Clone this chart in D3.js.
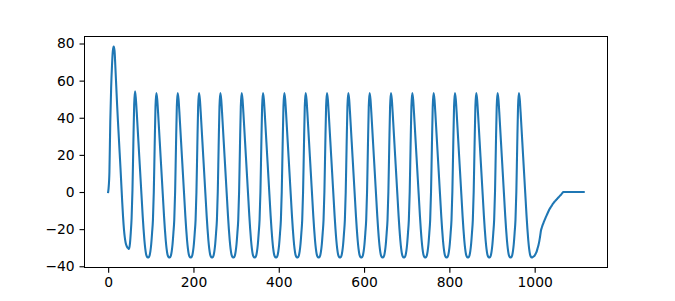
<!DOCTYPE html>
<html>
<head>
<meta charset="utf-8">
<script src="https://cdn.jsdelivr.net/npm/d3@7"></script>
<style>
  html, body { margin: 0; padding: 0; background: #fff; }
  svg { display: block; }
  .tick text { font-family: "DejaVu Sans", sans-serif; font-size: 13.89px; fill: #000; }
</style>
</head>
<body>
<svg id="chart" width="675" height="301"></svg>
<script>
// Sample times (x index) : 0 then odd steps up to 1115
const sampleTimes = [0].concat(d3.range(1, 1116, 2));

// Membrane potential, one value per sample time
const voltage = [
  0,
  // first spike (t = 1 .. 61)
  2, 11, 38, 56, 68, 76, 78.3, 76, 67, 57,
  47, 38, 29.5, 21, 12.5, 3.5, -5.5, -13.5, -20, -24.5,
  -27.3, -28.9, -29.8, -30.3, -30.7, -28, -22, -14, 1, 25,
  47,
  // t = 63 .. 111
  54.2, 50, 43, 35, 27, 19, 11, 3, -5, -13, -20, -26, -30.5, -33.5, -34.8, -35.2, -35.2, -34.3, -32, -28, -22, -15, 0, 24, 46,
  // t = 113 .. 161
  53.3, 50, 43, 35, 27, 19, 11, 3, -5, -13, -20, -26, -30.5, -33.5, -34.8, -35.2, -35.2, -34.3, -32, -28, -22, -15, 0, 24, 46,
  // t = 163 .. 211
  53.3, 50, 43, 35, 27, 19, 11, 3, -5, -13, -20, -26, -30.5, -33.5, -34.8, -35.2, -35.2, -34.3, -32, -28, -22, -15, 0, 24, 46,
  // t = 213 .. 261
  53.3, 50, 43, 35, 27, 19, 11, 3, -5, -13, -20, -26, -30.5, -33.5, -34.8, -35.2, -35.2, -34.3, -32, -28, -22, -15, 0, 24, 46,
  // t = 263 .. 311
  53.3, 50, 43, 35, 27, 19, 11, 3, -5, -13, -20, -26, -30.5, -33.5, -34.8, -35.2, -35.2, -34.3, -32, -28, -22, -15, 0, 24, 46,
  // t = 313 .. 361
  53.3, 50, 43, 35, 27, 19, 11, 3, -5, -13, -20, -26, -30.5, -33.5, -34.8, -35.2, -35.2, -34.3, -32, -28, -22, -15, 0, 24, 46,
  // t = 363 .. 411
  53.3, 50, 43, 35, 27, 19, 11, 3, -5, -13, -20, -26, -30.5, -33.5, -34.8, -35.2, -35.2, -34.3, -32, -28, -22, -15, 0, 24, 46,
  // t = 413 .. 461
  53.3, 50, 43, 35, 27, 19, 11, 3, -5, -13, -20, -26, -30.5, -33.5, -34.8, -35.2, -35.2, -34.3, -32, -28, -22, -15, 0, 24, 46,
  // t = 463 .. 511
  53.3, 50, 43, 35, 27, 19, 11, 3, -5, -13, -20, -26, -30.5, -33.5, -34.8, -35.2, -35.2, -34.3, -32, -28, -22, -15, 0, 24, 46,
  // t = 513 .. 561
  53.3, 50, 43, 35, 27, 19, 11, 3, -5, -13, -20, -26, -30.5, -33.5, -34.8, -35.2, -35.2, -34.3, -32, -28, -22, -15, 0, 24, 46,
  // t = 563 .. 611
  53.3, 50, 43, 35, 27, 19, 11, 3, -5, -13, -20, -26, -30.5, -33.5, -34.8, -35.2, -35.2, -34.3, -32, -28, -22, -15, 0, 24, 46,
  // t = 613 .. 661
  53.3, 50, 43, 35, 27, 19, 11, 3, -5, -13, -20, -26, -30.5, -33.5, -34.8, -35.2, -35.2, -34.3, -32, -28, -22, -15, 0, 24, 46,
  // t = 663 .. 711
  53.3, 50, 43, 35, 27, 19, 11, 3, -5, -13, -20, -26, -30.5, -33.5, -34.8, -35.2, -35.2, -34.3, -32, -28, -22, -15, 0, 24, 46,
  // t = 713 .. 761
  53.3, 50, 43, 35, 27, 19, 11, 3, -5, -13, -20, -26, -30.5, -33.5, -34.8, -35.2, -35.2, -34.3, -32, -28, -22, -15, 0, 24, 46,
  // t = 763 .. 811
  53.3, 50, 43, 35, 27, 19, 11, 3, -5, -13, -20, -26, -30.5, -33.5, -34.8, -35.2, -35.2, -34.3, -32, -28, -22, -15, 0, 24, 46,
  // t = 813 .. 861
  53.3, 50, 43, 35, 27, 19, 11, 3, -5, -13, -20, -26, -30.5, -33.5, -34.8, -35.2, -35.2, -34.3, -32, -28, -22, -15, 0, 24, 46,
  // t = 863 .. 911
  53.3, 50, 43, 35, 27, 19, 11, 3, -5, -13, -20, -26, -30.5, -33.5, -34.8, -35.2, -35.2, -34.3, -32, -28, -22, -15, 0, 24, 46,
  // t = 913 .. 961
  53.3, 50, 43, 35, 27, 19, 11, 3, -5, -13, -20, -26, -30.5, -33.5, -34.8, -35.2, -35.2, -34.3, -32, -28, -22, -15, 0, 24, 46,
  // last spike t = 963 .. 995
  53.3, 50, 43, 35, 27, 19, 11, 3, -5, -13, -20, -26, -30.5, -33.5, -34.8, -35.2, -35.2,
  // recovery t = 997 .. 1067
  -34.8, -34.5, -33.8, -32.9, -31.8, -30.2, -28.5, -26.3, -23.5, -20.5,
  -19, -17.6, -16.4, -15.3, -14.2, -13.1, -12.1, -11.1, -10.1, -9.2,
  -8.4, -7.7, -7, -6.3, -5.7, -5.1, -4.6, -4.1, -3.6, -3.1,
  -2.6, -2.1, -1.6, -1.1, -0.5, 0,
  // rest t = 1069 .. 1115
  0, 0, 0, 0, 0, 0, 0, 0, 0, 0, 0, 0, 0, 0, 0, 0, 0, 0, 0, 0, 0, 0, 0, 0
];

const xTickValues = [0, 200, 400, 600, 800, 1000];
const yTickValues = [-40, -20, 0, 20, 40, 60, 80];

const W = 675, H = 301;
const pt = 100 / 72;
const mLeft = 0.125 * W, mRight = 0.9 * W, mTop = (1 - 0.88) * H, mBottom = (1 - 0.11) * H;

const data = sampleTimes.map((t, i) => ({ t, v: voltage[i] }));
if (sampleTimes.length !== voltage.length) console.error("length mismatch", sampleTimes.length, voltage.length);

const [tMin, tMax] = d3.extent(sampleTimes);
const [vMin, vMax] = d3.extent(voltage);
const tPad = (tMax - tMin) * 0.05, vPad = (vMax - vMin) * 0.05;

const x = d3.scaleLinear().domain([tMin - tPad, tMax + tPad]).range([mLeft, mRight]);
const y = d3.scaleLinear().domain([vMin - vPad, vMax + vPad]).range([mBottom, mTop]);

const svg = d3.select("#chart");
const fmt = d => (d < 0 ? "\u2212" + Math.abs(d) : String(d));

svg.append("clipPath").attr("id", "plotclip").append("rect")
  .attr("x", mLeft).attr("y", mTop).attr("width", mRight - mLeft).attr("height", mBottom - mTop);

svg.append("path")
  .datum(data)
  .attr("clip-path", "url(#plotclip)")
  .attr("fill", "none")
  .attr("stroke", "#1f77b4")
  .attr("stroke-width", 1.5 * pt)
  .attr("stroke-linejoin", "round")
  .attr("stroke-linecap", "square")
  .attr("d", d3.line().x(d => x(d.t)).y(d => y(d.v)).curve(d3.curveMonotoneX));

const xAxis = d3.axisBottom(x).tickValues(xTickValues).tickFormat(fmt)
  .tickSize(3.5 * pt).tickPadding(3.5 * pt).tickSizeOuter(0);
const yAxis = d3.axisLeft(y).tickValues(yTickValues).tickFormat(fmt)
  .tickSize(3.5 * pt).tickPadding(3.5 * pt).tickSizeOuter(0);

const gx = svg.append("g").attr("transform", `translate(0,${mBottom})`).call(xAxis);
const gy = svg.append("g").attr("transform", `translate(${mLeft},0)`).call(yAxis);
[gx, gy].forEach(g => {
  g.select(".domain").remove();
  g.selectAll(".tick line").attr("stroke", "#000").attr("stroke-width", 0.8 * pt);
  g.selectAll(".tick text").attr("font-family", "DejaVu Sans").attr("font-size", 13.89);
});

svg.append("rect")
  .attr("x", mLeft).attr("y", mTop)
  .attr("width", mRight - mLeft).attr("height", mBottom - mTop)
  .attr("fill", "none").attr("stroke", "#000").attr("stroke-width", 0.8 * pt)
  .attr("shape-rendering", "crispEdges");
</script>
</body>
</html>
